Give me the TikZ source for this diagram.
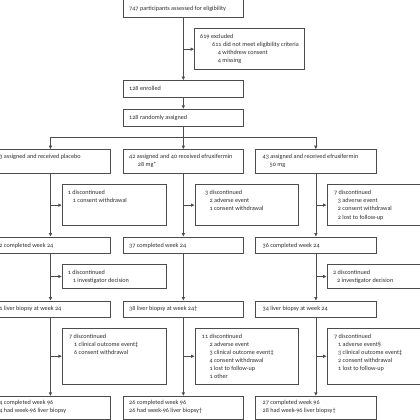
\documentclass[tikz,border=0pt]{standalone}
\usepackage{fontspec}
\setmainfont{Carlito}[Numbers=OldStyle]
\usetikzlibrary{arrows.meta}
\definecolor{linegray}{gray}{0.3}
\definecolor{textgray}{gray}{0.18}
\newcommand{\boxlines}[1]{\begin{tabular}[t]{@{}l@{}}#1\end{tabular}}
\tikzset{
  box/.style={draw=linegray, line width=0.7pt, inner sep=0pt, anchor=north west},
  txt/.style={anchor=base west, inner sep=0pt, font=\fontsize{6.2}{8.1}\selectfont, text=textgray},
  arr/.style={draw=linegray, line width=0.7pt, -{Latex[length=3.6pt,width=3.6pt]}},
  ln/.style={draw=linegray, line width=0.7pt}
}
\begin{document}
\begin{tikzpicture}[x=1pt,y=-1pt]
\useasboundingbox (0,0) rectangle (420,420);
% boxes
\node[box, minimum width=120.6pt, minimum height=18pt] (top) at (122.7,-1.3) {};
\node[box, minimum width=109.7pt, minimum height=41pt] (excl) at (194.3,28.3) {};
\node[box, minimum width=120.6pt, minimum height=16.7pt] (enr) at (122.7,80.3) {};
\node[box, minimum width=120.6pt, minimum height=16.7pt] (rnd) at (122.7,109) {};
\node[box, minimum width=120.6pt, minimum height=24pt] (arma) at (-10.2,149.3) {};
\node[box, minimum width=120.6pt, minimum height=24pt] (armb) at (122.7,149.3) {};
\node[box, minimum width=120.6pt, minimum height=24pt] (armc) at (255.2,149.3) {};
\node[box, minimum width=103.7pt, minimum height=41pt] (dsa) at (62,184.3) {};
\node[box, minimum width=103.7pt, minimum height=41pt] (dsb) at (194.7,184.3) {};
\node[box, minimum width=103.7pt, minimum height=41pt] (dsc) at (326.7,184.3) {};
\node[box, minimum width=120.6pt, minimum height=16.6pt] (cwa) at (-10.2,236.7) {};
\node[box, minimum width=120.6pt, minimum height=16.6pt] (cwb) at (122.7,236.7) {};
\node[box, minimum width=120.6pt, minimum height=16.6pt] (cwc) at (255.2,236.7) {};
\node[box, minimum width=103.7pt, minimum height=24.3pt] (dta) at (62,264) {};
\node[box, minimum width=103.7pt, minimum height=24.3pt] (dtc) at (326.7,264) {};
\node[box, minimum width=120.6pt, minimum height=16pt] (lba) at (-10.2,300.7) {};
\node[box, minimum width=120.6pt, minimum height=16pt] (lbb) at (122.7,300.7) {};
\node[box, minimum width=120.6pt, minimum height=16pt] (lbc) at (255.2,300.7) {};
\node[box, minimum width=103.7pt, minimum height=56.3pt] (dua) at (62,327.7) {};
\node[box, minimum width=103.7pt, minimum height=56.3pt] (dub) at (194.7,327.7) {};
\node[box, minimum width=103.7pt, minimum height=56.3pt] (duc) at (326.7,327.7) {};
\node[box, minimum width=120.6pt, minimum height=22.5pt] (cna) at (-10.2,396) {};
\node[box, minimum width=120.6pt, minimum height=22.5pt] (cnb) at (122.7,396) {};
\node[box, minimum width=120.6pt, minimum height=22.5pt] (cnc) at (255.2,396) {};
% texts
\node[txt] (topt) at (129,10.3) {747 participants assessed for eligibility};
\node[txt] (exclt) at (200,38) {\boxlines{619 excluded\\ \hspace*{12pt}611 did not meet eligibility criteria\\ \hspace*{17.7pt}4 withdrew consent\\ \hspace*{17.7pt}4 missing}};
\node[txt] (enrt) at (129,90.7) {128 enrolled};
\node[txt] (rndt) at (129,119.4) {128 randomly assigned};
\node[txt] (armat) at (-3.9,158.7) {43 assigned and received placebo};
\node[txt] (armbt) at (129,158.7) {\boxlines{42 assigned and 40 received efruxifermin\\ \hspace*{8.7pt}28 mg*}};
\node[txt] (armct) at (262.5,158.7) {\boxlines{43 assigned and received efruxifermin\\ \hspace*{7pt}50 mg}};
\node[txt] (dsat) at (67.7,194.7) {\boxlines{1 discontinued\\ \hspace*{5pt}1 consent withdrawal}};
\node[txt] (dsbt) at (205,194.7) {\boxlines{3 discontinued\\ \hspace*{4.3pt}2 adverse event\\ \hspace*{4.3pt}1 consent withdrawal}};
\node[txt] (dsct) at (334,194.7) {\boxlines{7 discontinued\\ \hspace*{3.7pt}3 adverse event\\ \hspace*{3.7pt}2 consent withdrawal\\ \hspace*{3.7pt}2 lost to follow-up}};
\node[txt] (cwat) at (-3.9,247) {42 completed week 24};
\node[txt] (cwbt) at (129,247) {37 completed week 24};
\node[txt] (cwct) at (262.5,247) {36 completed week 24};
\node[txt] (dtat) at (67.7,274.7) {\boxlines{1 discontinued\\ \hspace*{5pt}1 investigator decision}};
\node[txt] (dtct) at (333,274.7) {\boxlines{2 discontinued\\ \hspace*{4pt}2 investigator decision}};
\node[txt] (lbat) at (-3.9,310.7) {41 liver biopsy at week 24};
\node[txt] (lbbt) at (129,310.7) {38 liver biopsy at week 24†};
\node[txt] (lbct) at (262.5,310.7) {34 liver biopsy at week 24};
\node[txt] (duat) at (69,338) {\boxlines{7 discontinued\\ \hspace*{5pt}1 clinical outcome event‡\\ \hspace*{5pt}6 consent withdrawal}};
\node[txt] (dubt) at (201.7,338) {\boxlines{11 discontinued\\ \hspace*{7.6pt}2 adverse event\\ \hspace*{7.6pt}3 clinical outcome event‡\\ \hspace*{7.6pt}4 consent withdrawal\\ \hspace*{7.6pt}1 lost to follow-up\\ \hspace*{7.6pt}1 other}};
\node[txt] (duct) at (334,338) {\boxlines{7 discontinued\\ \hspace*{4pt}1 adverse event§\\ \hspace*{4pt}3 clinical outcome event‡\\ \hspace*{4pt}2 consent withdrawal\\ \hspace*{4pt}1 lost to follow-up}};
\node[txt] (cnat) at (-3.9,404.5) {\boxlines{34 completed week 96\\ 34 had week-96 liver biopsy}};
\node[txt] (cnbt) at (129,404.5) {\boxlines{26 completed week 96\\ 26 had week-96 liver biopsy†}};
\node[txt] (cnct) at (262.5,404.5) {\boxlines{27 completed week 96\\ 28 had week-96 liver biopsy†}};
% connectors
\draw[arr] (top.south) -- (enr.north);
\draw[arr] (top.south |- excl.west) -- (excl.west);
\draw[arr] (enr.south) -- (rnd.north);
\coordinate (br) at (rnd.south |- 0,137.3);
\draw[ln] (rnd.south) -- (br);
\draw[ln] (arma.north |- br) -- (armc.north |- br);
\draw[arr] (arma.north |- br) -- (arma.north);
\draw[arr] (br) -- (armb.north);
\draw[arr] (armc.north |- br) -- (armc.north);
% placebo arm
\draw[arr] (arma.south) -- (cwa.north);
\draw[arr] (arma.south |- dsa.west) -- (dsa.west);
\draw[arr] (cwa.south) -- (lba.north);
\draw[arr] (cwa.south |- dta.west) -- (dta.west);
\draw[arr] (lba.south) -- (cna.north);
\draw[arr] (lba.south |- dua.west) -- (dua.west);
% 28 mg arm
\draw[arr] (armb.south) -- (cwb.north);
\draw[arr] (armb.south |- dsb.west) -- (dsb.west);
\draw[arr] (cwb.south) -- (lbb.north);
\draw[arr] (lbb.south) -- (cnb.north);
\draw[arr] (lbb.south |- dub.west) -- (dub.west);
% 50 mg arm
\draw[arr] (armc.south) -- (cwc.north);
\draw[arr] (armc.south |- dsc.west) -- (dsc.west);
\draw[arr] (cwc.south) -- (lbc.north);
\draw[arr] (cwc.south |- dtc.west) -- (dtc.west);
\draw[arr] (lbc.south) -- (cnc.north);
\draw[arr] (lbc.south |- duc.west) -- (duc.west);
\end{tikzpicture}
\end{document}
